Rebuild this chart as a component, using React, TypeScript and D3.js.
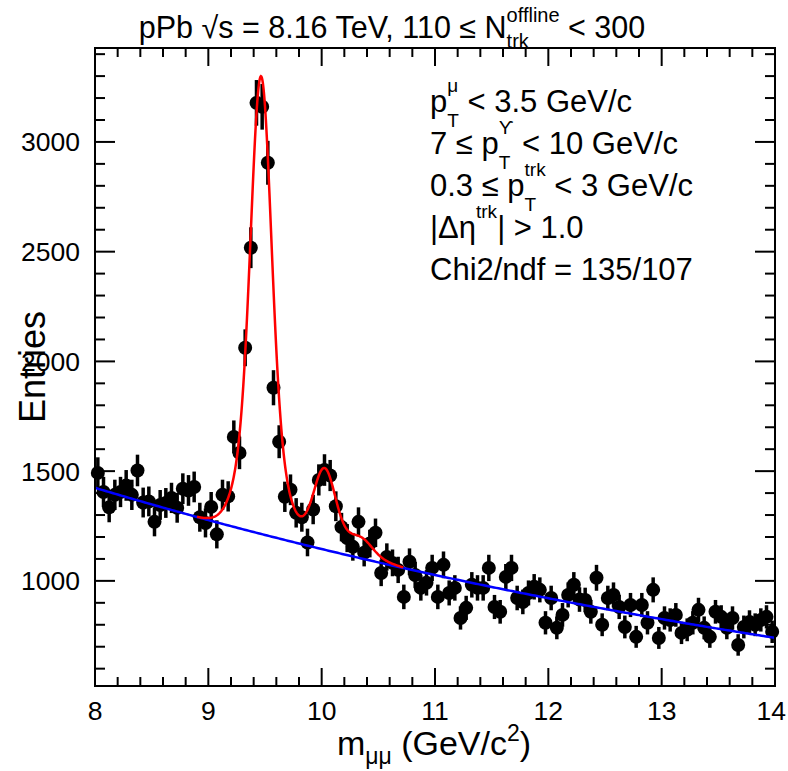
import React from 'react';
import * as d3 from 'd3';

// ---------------- data ----------------
const X_MIN = 8;
const X_MAX = 14;
const BIN_WIDTH = 0.05;
const Y_MIN = 521;
const Y_MAX = 3428;

const counts = [
  1492, 1405, 1335, 1392, 1405, 1435, 1392, 1503, 1357, 1362,
  1269, 1346, 1355, 1378, 1333, 1420, 1412, 1428, 1290, 1264,
  1337, 1212, 1392, 1385, 1656, 1583, 2062, 2518, 3178, 3160,
  2905, 1880, 1634, 1383, 1415, 1310, 1290, 1175, 1325, 1460,
  1505, 1480, 1340, 1245, 1195, 1155, 1269, 1128, 1170, 1219,
  1036, 1109, 1082, 1050, 927, 1087, 1027, 968, 991, 1059,
  927, 1073, 945, 968, 831, 877, 982, 968, 968, 1059,
  881, 859, 1018, 1059, 922, 904, 945, 973, 959, 809,
  922, 786, 845, 936, 982, 915, 913, 859, 1014, 800,
  922, 936, 881, 790, 890, 745, 890, 809, 959, 740,
  831, 822, 845, 763, 777, 809, 868, 786, 745, 859,
  836, 786, 831, 708, 790, 813, 800, 822, 836, 768,
];

const errors = [
  71, 69, 68, 69, 69, 70, 69, 72, 68, 68,
  66, 68, 68, 69, 68, 70, 70, 70, 66, 66,
  68, 64, 69, 69, 75, 74, 84, 93, 104, 104,
  100, 80, 75, 69, 70, 67, 66, 63, 67, 71,
  72, 71, 68, 65, 64, 63, 66, 62, 63, 65,
  60, 62, 61, 60, 56, 61, 59, 58, 58, 60,
  56, 61, 57, 58, 53, 55, 58, 58, 58, 60,
  55, 54, 59, 60, 56, 56, 57, 58, 57, 53,
  56, 52, 54, 57, 58, 56, 56, 54, 59, 52,
  56, 57, 55, 52, 55, 50, 55, 53, 57, 50,
  53, 53, 54, 51, 52, 53, 55, 52, 50, 54,
  53, 52, 53, 49, 52, 53, 52, 53, 53, 51,
];

const xTickLabels = [8, 9, 10, 11, 12, 13, 14];
const yTickLabels = [1000, 1500, 2000, 2500, 3000];

// fit parameters
const bkgNorm = 1424;      // background at m = 8
const bkgSlope = -0.109;   // exponential slope per GeV
const peakMass = [9.465, 10.025, 10.355];
const peakAmp = [2085, 367, 79];
const peakCoreSigma = [0.085, 0.09, 0.093];
const peakTailSigma = [0.16, 0.17, 0.175];
const coreFraction = 0.7;
const fitRange = [8.9, 10.72];

// ---------------- layout ----------------
const W = 788;
const H = 771;
const L = 95, R = 775, T = 48, B = 686;
const FONT = '"Liberation Sans", Arial, Helvetica, sans-serif';
const TICK_FONT = 26.5;

let _ctx: CanvasRenderingContext2D | null = null;
function tw(s: string, size: number) {
  if (!_ctx) _ctx = document.createElement('canvas').getContext('2d');
  if (!_ctx) return s.length * size * 0.55;
  _ctx.font = `${size}px "Liberation Sans", Arial, sans-serif`;
  return _ctx.measureText(s).width;
}

type Part = string | { sup?: string; sub?: string };

function rich(parts: Part[], F: number, S: number, rise: number, drop: number) {
  const out: any[] = [];
  let cur = 0;
  let pendingDx = 0;
  parts.forEach((p, i) => {
    if (typeof p === 'string') {
      out.push(
        <tspan key={i} fontSize={F} dy={0 - cur} dx={pendingDx}>{p}</tspan>
      );
      cur = 0;
      pendingDx = 0;
    } else {
      if (p.sup) {
        out.push(
          <tspan key={i + 'a'} fontSize={S} dy={-rise - cur}>{p.sup}</tspan>
        );
        cur = -rise;
      }
      if (p.sub) {
        const back = p.sup ? -tw(p.sup, S) : 0;
        out.push(
          <tspan key={i + 'b'} fontSize={S} dx={back} dy={drop - cur}>{p.sub}</tspan>
        );
        cur = drop;
        if (p.sup) pendingDx = Math.max(0, tw(p.sup, S) - tw(p.sub, S));
      }
    }
  });
  return out;
}

export default function App() {
  const x = d3.scaleLinear().domain([X_MIN, X_MAX]).range([L, R]);
  const y = d3.scaleLinear().domain([Y_MIN, Y_MAX]).range([B, T]);

  const centers = counts.map((_, i) => X_MIN + (i + 0.5) * BIN_WIDTH);

  const bkg = (m: number) => bkgNorm * Math.exp(bkgSlope * (m - X_MIN));
  const sig = (m: number) =>
    peakMass.reduce((acc, mu, k) => {
      const d = m - mu;
      const core = Math.exp(-0.5 * (d / peakCoreSigma[k]) ** 2);
      const tail = Math.exp(-0.5 * (d / peakTailSigma[k]) ** 2);
      return acc + peakAmp[k] * (coreFraction * core + (1 - coreFraction) * tail);
    }, 0);

  const bkgPts = d3.range(X_MIN, X_MAX + 1e-9, 0.02);
  const fitPts = d3.range(fitRange[0], fitRange[1] + 1e-9, 0.004);
  const line = d3.line<[number, number]>().x((d) => x(d[0])).y((d) => y(d[1]));
  const bkgPath = line(bkgPts.map((m) => [m, bkg(m)] as [number, number]));
  const fitPath = line(fitPts.map((m) => [m, bkg(m) + sig(m)] as [number, number]));

  const xMinor = d3.range(X_MIN, X_MAX + 1e-9, 0.2);
  const yMinor = d3.range(600, Y_MAX, 100);
  const xMajLen = 18, xMinLen = 9, yMajLen = 20, yMinLen = 10;

  const ticks: any[] = [];
  xMinor.forEach((v, i) => {
    const isMaj = Math.abs(v - Math.round(v)) < 1e-6;
    const len = isMaj ? xMajLen : xMinLen;
    const px = x(v);
    ticks.push(<line key={'xb' + i} x1={px} x2={px} y1={B} y2={B - len} />);
    ticks.push(<line key={'xt' + i} x1={px} x2={px} y1={T} y2={T + len} />);
  });
  yMinor.forEach((v, i) => {
    const isMaj = v % 500 === 0;
    const len = isMaj ? yMajLen : yMinLen;
    const py = y(v);
    ticks.push(<line key={'yl' + i} x1={L} x2={L + len} y1={py} y2={py} />);
    ticks.push(<line key={'yr' + i} x1={R} x2={R - len} y1={py} y2={py} />);
  });

  const textLines: Part[][] = [
    ['p', { sup: 'μ', sub: 'T' }, ' < 3.5 GeV/c'],
    ['7 ≤ p', { sup: 'ϒ', sub: 'T' }, ' < 10 GeV/c'],
    ['0.3 ≤ p', { sup: 'trk', sub: 'T' }, ' < 3 GeV/c'],
    ['|Δη', { sup: 'trk' }, '| > 1.0'],
    ['Chi2/ndf = 135/107'],
  ];

  // keep the last x label inside the canvas
  const xLabelPos = (v: number) => {
    const half = tw(String(v), TICK_FONT) / 2;
    return Math.min(x(v), W - half - 2);
  };

  return (
    <svg
      width={W}
      height={H}
      style={{ position: 'absolute', left: 0, top: 0, background: '#fff' }}
      fontFamily={FONT}
    >
      <rect x={0} y={0} width={W} height={H} fill="#fff" />

      {/* title */}
      <text x={392} y={38} textAnchor="middle" fill="#000">
        {rich(['pPb √s = 8.16 TeV, 110 ≤ N', { sup: 'offline', sub: 'trk' }, ' < 300'], 30.5, 20, 16, 10)}
      </text>

      {/* data: error bars + markers */}
      <g stroke="#000" strokeWidth={3.5}>
        {counts.map((c, i) => (
          <line key={'e' + i} x1={x(centers[i])} x2={x(centers[i])} y1={y(c - errors[i])} y2={y(c + errors[i])} />
        ))}
      </g>
      <g fill="#000">
        {counts.map((c, i) => (
          <circle key={'m' + i} cx={x(centers[i])} cy={y(c)} r={7} />
        ))}
      </g>

      {/* fits */}
      <path d={bkgPath || ''} fill="none" stroke="#0000ff" strokeWidth={2.5} />
      <path d={fitPath || ''} fill="none" stroke="#ff0000" strokeWidth={2.5} />

      {/* frame & ticks */}
      <g stroke="#000" strokeWidth={2}>{ticks}</g>
      <rect x={L} y={T} width={R - L} height={B - T} fill="none" stroke="#000" strokeWidth={2} />

      {/* tick labels */}
      <g fontSize={TICK_FONT} fill="#000">
        {xTickLabels.map((v) => (
          <text key={'xl' + v} x={xLabelPos(v)} y={720} textAnchor="middle">{v}</text>
        ))}
        {yTickLabels.map((v) => (
          <text key={'yl' + v} x={80} y={y(v) + 9.5} textAnchor="end">{v}</text>
        ))}
      </g>

      {/* axis titles */}
      <text x={434} y={755} textAnchor="middle" fill="#000">
        {rich(['m', { sub: 'μμ' }, ' (GeV/c', { sup: '2' }, ')'], 34, 23, 14, 9)}
      </text>
      <text transform="translate(45,367) rotate(-90)" textAnchor="middle" fontSize={36} fill="#000">
        Entries
      </text>

      {/* info block */}
      {textLines.map((ln, i) => (
        <text key={'tl' + i} x={430} y={112 + i * 42} fill="#000">
          {rich(ln, 31, 19, 20, 15)}
        </text>
      ))}
    </svg>
  );
}
